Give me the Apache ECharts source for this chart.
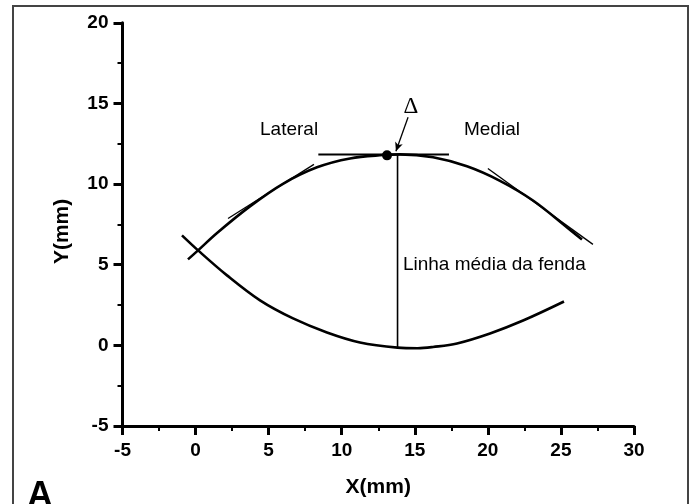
<!DOCTYPE html>
<html>
<head>
<meta charset="utf-8">
<script src="https://cdn.jsdelivr.net/npm/echarts@6/dist/echarts.min.js"></script>
<style>
html,body{margin:0;padding:0;background:#fff;}
#c{width:695px;height:504px;}
</style>
</head>
<body>
<div id="c"></div>
<script>
// Upper contour (x, y in mm)
var upperX = [-0.52, 0.17, 1.47, 3.72, 5.98, 8.31, 10.57, 12.83, 13.99, 16.25, 18.57, 20.83, 23.09, 25.42, 26.44];
var upperY = [5.33, 5.89, 6.97, 8.62, 10.02, 11.04, 11.59, 11.80, 11.84, 11.66, 11.10, 10.20, 8.98, 7.31, 6.57];
// Lower contour
var lowerX = [-0.93, 0.17, 2.15, 4.41, 6.67, 8.99, 11.25, 13.82, 15.2, 16.25, 17.89, 20.15, 22.41, 25.21];
var lowerY = [6.82, 5.89, 4.34, 2.79, 1.67, 0.80, 0.18, -0.14, -0.18, -0.10, 0.12, 0.74, 1.54, 2.72];
// Tangent lines and midline
var tangentLeft = [[2.22, 7.87], [8.10, 11.22]];
var tangentRight = [[20.0, 10.97], [27.19, 6.26]];
var tangentTop = [[8.4, 11.84], [17.34, 11.84]];
var midline = [[13.82, 11.84], [13.82, -0.14]];
var apexPoint = [[13.10, 11.78]];
var arrowLine = [[14.54, 14.14], [13.71, 12.03]];
// Annotations
var labelsCenter = [["Lateral", 6.40, 13.39], ["Medial", 20.28, 13.39]];
var labelsLeft = [["Linha média da fenda", 14.19, 5.02]];
var deltaLabel = [["Δ", 14.74, 14.76]];
// Axis ticks
var xTicks = {min: -5, max: 30, interval: 5};
var yTicks = {min: -5, max: 20, interval: 5};

function zip(xs, ys) { return xs.map(function (x, i) { return [x, ys[i]]; }); }

var chart = echarts.init(document.getElementById('c'), null, {renderer: 'canvas'});

var SANS = 'Liberation Sans, Arial, sans-serif';
var tickFont = {color: '#000', fontSize: 19, fontWeight: 'bold', fontFamily: SANS};
var axisCommon = {
  axisLine: {show: true, onZero: false, lineStyle: {color: '#000', width: 3}},
  axisTick: {show: true, inside: false, length: 9, lineStyle: {color: '#000', width: 3}},
  minorTick: {show: true, splitNumber: 2, length: 5, lineStyle: {color: '#000', width: 2}},
  splitLine: {show: false}
};

function seg(data, w) {
  return {type: 'line', data: data, symbol: 'none', smooth: false, silent: true,
    lineStyle: {color: '#000', width: w}};
}
function textSeries(arr, pos, font, size) {
  return {type: 'scatter', symbolSize: 0, silent: true,
    itemStyle: {opacity: 1, color: '#000'},
    data: arr.map(function (d) { return {value: [d[1], d[2]], name: d[0]}; }),
    label: {show: true, position: pos, distance: 0, formatter: '{b}', color: '#000', opacity: 1,
      fontSize: size, fontFamily: font, textBorderWidth: 0}};
}

var option = {
  animation: false,
  backgroundColor: '#fff',
  grid: {left: 122.5, right: 61, top: 22.8, bottom: 78, containLabel: false},
  xAxis: Object.assign({}, axisCommon, {
    type: 'value', min: xTicks.min, max: xTicks.max, interval: xTicks.interval,
    name: 'X(mm)', nameLocation: 'middle', nameGap: 51,
    nameTextStyle: {color: '#000', fontSize: 21, fontWeight: 'bold', fontFamily: SANS},
    axisLabel: Object.assign({margin: 15}, tickFont)
  }),
  yAxis: Object.assign({}, axisCommon, {
    type: 'value', min: yTicks.min, max: yTicks.max, interval: yTicks.interval,
    name: 'Y(mm)', nameLocation: 'middle', nameGap: 50, nameRotate: 90,
    nameTextStyle: {color: '#000', fontSize: 21, fontWeight: 'bold', fontFamily: SANS, padding: [0, 14, 0, 0]},
    axisLabel: Object.assign({margin: 14}, tickFont)
  }),
  graphic: [
    {type: 'rect', shape: {x: 13, y: 6, width: 675, height: 530},
      style: {fill: 'none', stroke: '#444', lineWidth: 2}, silent: true, z: -1},
    {type: 'text', left: 27, top: 479,
      style: {text: 'A', fill: '#000', font: 'bold 36px Liberation Sans, Arial, sans-serif'}, silent: true}
  ],
  series: [
    {type: 'line', data: zip(upperX, upperY), symbol: 'none', smooth: 0.35, silent: true,
      lineStyle: {color: '#000', width: 2.6}},
    {type: 'line', data: zip(lowerX, lowerY), symbol: 'none', smooth: 0.35, silent: true,
      lineStyle: {color: '#000', width: 2.6}},
    seg(tangentLeft, 1.3),
    seg(tangentRight, 1.3),
    seg(tangentTop, 2),
    seg(midline, 1.6),
    {type: 'scatter', data: apexPoint, symbol: 'circle', symbolSize: 10, silent: true,
      itemStyle: {color: '#000', opacity: 1},
      markLine: {silent: true, symbol: ['none', 'arrow'], symbolSize: [6, 9], label: {show: false},
        lineStyle: {color: '#000', width: 1.3, type: 'solid'},
        data: [[{coord: arrowLine[0]}, {coord: arrowLine[1]}]]}},
    textSeries(labelsCenter, 'inside', SANS, 19),
    textSeries(labelsLeft, 'right', SANS, 19),
    textSeries(deltaLabel, 'inside', 'Liberation Serif, Times New Roman, serif', 23)
  ]
};
chart.setOption(option);
</script>
</body>
</html>
